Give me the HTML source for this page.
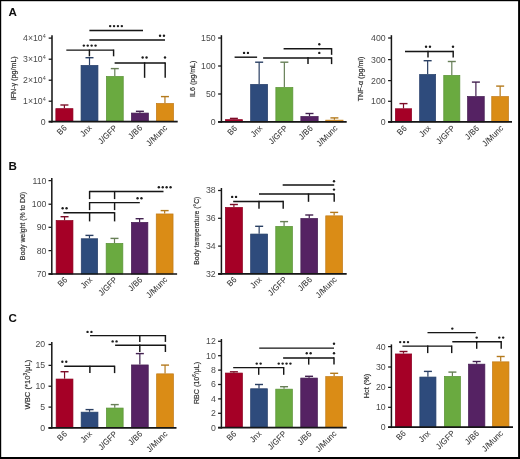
<!DOCTYPE html>
<html><head><meta charset="utf-8"><style>
html,body{margin:0;padding:0;background:#fff;}
svg{display:block;font-family:"Liberation Sans",sans-serif;will-change:transform;}
</style></head><body>
<svg width="520" height="459" viewBox="0 0 520 459">
<defs><filter id="bl" x="0" y="0" width="100%" height="100%"><feGaussianBlur stdDeviation="0.35"/></filter></defs>
<rect width="520" height="459" fill="#fff"/>
<g filter="url(#bl)">
<rect x="55.85" y="108.65" width="17.1" height="12.95" fill="#a50028" stroke="#8c0022" stroke-width="0.7"/>
<line x1="64.4" y1="108.3" x2="64.4" y2="105" stroke="#7d0f28" stroke-width="1.2"/>
<line x1="60.4" y1="105" x2="68.4" y2="105" stroke="#7d0f28" stroke-width="1.4"/>
<rect x="81.05" y="65.35" width="16.9" height="56.25" fill="#2e4b7c" stroke="#263f69" stroke-width="0.7"/>
<line x1="89.5" y1="65" x2="89.5" y2="57.7" stroke="#2a3f63" stroke-width="1.2"/>
<line x1="85.5" y1="57.7" x2="93.5" y2="57.7" stroke="#2a3f63" stroke-width="1.4"/>
<rect x="106.35" y="76.45" width="16.9" height="45.15" fill="#6aaa40" stroke="#5a9236" stroke-width="0.7"/>
<line x1="114.8" y1="76.1" x2="114.8" y2="68.6" stroke="#677f57" stroke-width="1.2"/>
<line x1="110.8" y1="68.6" x2="118.8" y2="68.6" stroke="#677f57" stroke-width="1.4"/>
<rect x="131.35" y="113.05" width="17.1" height="8.55" fill="#542463" stroke="#461d53" stroke-width="0.7"/>
<line x1="139.9" y1="112.7" x2="139.9" y2="111.3" stroke="#42204f" stroke-width="1.2"/>
<line x1="135.9" y1="111.3" x2="143.9" y2="111.3" stroke="#42204f" stroke-width="1.4"/>
<rect x="156.35" y="103.45" width="17.2" height="18.15" fill="#da8c18" stroke="#c07a14" stroke-width="0.7"/>
<line x1="164.95" y1="103.1" x2="164.95" y2="96.6" stroke="#b47a1e" stroke-width="1.2"/>
<line x1="160.95" y1="96.6" x2="168.95" y2="96.6" stroke="#b47a1e" stroke-width="1.4"/>
<line x1="52" y1="35.2" x2="52" y2="122.5" stroke="#141414" stroke-width="1.5"/>
<line x1="48.7" y1="121.6" x2="177.7" y2="121.6" stroke="#141414" stroke-width="1.7"/>
<line x1="48.7" y1="38.1" x2="52" y2="38.1" stroke="#141414" stroke-width="1.25"/>
<text transform="translate(45.7,41) scale(1.05,1)" font-size="8.3" text-anchor="end" fill="#4a4a4a">4×10<tspan font-size="5.2" dy="-2.8">4</tspan></text>
<line x1="48.7" y1="59.2" x2="52" y2="59.2" stroke="#141414" stroke-width="1.25"/>
<text transform="translate(45.7,62.1) scale(1.05,1)" font-size="8.3" text-anchor="end" fill="#4a4a4a">3×10<tspan font-size="5.2" dy="-2.8">4</tspan></text>
<line x1="48.7" y1="80.2" x2="52" y2="80.2" stroke="#141414" stroke-width="1.25"/>
<text transform="translate(45.7,83.1) scale(1.05,1)" font-size="8.3" text-anchor="end" fill="#4a4a4a">2×10<tspan font-size="5.2" dy="-2.8">4</tspan></text>
<line x1="48.7" y1="101.2" x2="52" y2="101.2" stroke="#141414" stroke-width="1.25"/>
<text transform="translate(45.7,104.1) scale(1.05,1)" font-size="8.3" text-anchor="end" fill="#4a4a4a">1×10<tspan font-size="5.2" dy="-2.8">4</tspan></text>
<line x1="48.7" y1="121.8" x2="52" y2="121.8" stroke="#141414" stroke-width="1.25"/>
<text transform="translate(45.7,124.7) scale(1.05,1)" font-size="8.3" text-anchor="end" fill="#4a4a4a">0</text>
<text transform="translate(13,78.3) rotate(-90) scale(0.97,1)" font-size="7.4" text-anchor="middle" fill="#2e2e2e" stroke="#2e2e2e" stroke-width="0.18" dy="2.6">IFN-γ (pg/mL)</text>
<text transform="translate(65.2,126.3) rotate(-45) scale(0.94,1)" font-size="8.4" text-anchor="end" fill="#333" stroke="#333" stroke-width="0.05" letter-spacing="0.1" dy="3">B6</text>
<text transform="translate(90.3,126.3) rotate(-45) scale(0.94,1)" font-size="8.4" text-anchor="end" fill="#333" stroke="#333" stroke-width="0.05" letter-spacing="0.1" dy="3">Jnx</text>
<text transform="translate(115.6,126.3) rotate(-45) scale(0.94,1)" font-size="8.4" text-anchor="end" fill="#333" stroke="#333" stroke-width="0.05" letter-spacing="0.1" dy="3">J/GFP</text>
<text transform="translate(140.7,126.3) rotate(-45) scale(0.94,1)" font-size="8.4" text-anchor="end" fill="#333" stroke="#333" stroke-width="0.05" letter-spacing="0.1" dy="3">J/B6</text>
<text transform="translate(165.75,126.3) rotate(-45) scale(0.94,1)" font-size="8.4" text-anchor="end" fill="#333" stroke="#333" stroke-width="0.05" letter-spacing="0.1" dy="3">J/Munc</text>
<line x1="89.4" y1="30.5" x2="143" y2="30.5" stroke="#141414" stroke-width="1.45"/>
<circle cx="110.15" cy="26.1" r="1.2" fill="#1e1e1e"/>
<circle cx="114.05" cy="26.1" r="1.2" fill="#1e1e1e"/>
<circle cx="117.95" cy="26.1" r="1.2" fill="#1e1e1e"/>
<circle cx="121.85" cy="26.1" r="1.2" fill="#1e1e1e"/>
<line x1="89.4" y1="40" x2="165" y2="40" stroke="#141414" stroke-width="1.45"/>
<circle cx="160.05" cy="35.8" r="1.2" fill="#1e1e1e"/>
<circle cx="163.95" cy="35.8" r="1.2" fill="#1e1e1e"/>
<line x1="66.3" y1="50.1" x2="113.6" y2="50.1" stroke="#141414" stroke-width="1.45"/>
<line x1="89.4" y1="49.5" x2="89.4" y2="56.3" stroke="#141414" stroke-width="1.45"/>
<line x1="113.6" y1="49.5" x2="113.6" y2="56.3" stroke="#141414" stroke-width="1.45"/>
<circle cx="83.85" cy="45.6" r="1.2" fill="#1e1e1e"/>
<circle cx="87.75" cy="45.6" r="1.2" fill="#1e1e1e"/>
<circle cx="91.65" cy="45.6" r="1.2" fill="#1e1e1e"/>
<circle cx="95.55" cy="45.6" r="1.2" fill="#1e1e1e"/>
<line x1="114.6" y1="63" x2="165.5" y2="63" stroke="#141414" stroke-width="1.45"/>
<line x1="144.6" y1="62.4" x2="144.6" y2="77.8" stroke="#141414" stroke-width="1.45"/>
<line x1="165.2" y1="62.4" x2="165.2" y2="77.8" stroke="#141414" stroke-width="1.45"/>
<circle cx="142.65" cy="57.5" r="1.2" fill="#1e1e1e"/>
<circle cx="146.55" cy="57.5" r="1.2" fill="#1e1e1e"/>
<circle cx="165" cy="57.5" r="1.2" fill="#1e1e1e"/>
<rect x="225.35" y="119.65" width="17.1" height="2.25" fill="#a50028" stroke="#8c0022" stroke-width="0.7"/>
<line x1="233.9" y1="119.3" x2="233.9" y2="118.4" stroke="#7d0f28" stroke-width="1.2"/>
<line x1="229.9" y1="118.4" x2="237.9" y2="118.4" stroke="#7d0f28" stroke-width="1.4"/>
<rect x="250.65" y="84.35" width="17" height="37.55" fill="#2e4b7c" stroke="#263f69" stroke-width="0.7"/>
<line x1="259.15" y1="84" x2="259.15" y2="62.2" stroke="#2a3f63" stroke-width="1.2"/>
<line x1="255.15" y1="62.2" x2="263.15" y2="62.2" stroke="#2a3f63" stroke-width="1.4"/>
<rect x="275.85" y="87.45" width="17" height="34.45" fill="#6aaa40" stroke="#5a9236" stroke-width="0.7"/>
<line x1="284.35" y1="87.1" x2="284.35" y2="62.2" stroke="#677f57" stroke-width="1.2"/>
<line x1="280.35" y1="62.2" x2="288.35" y2="62.2" stroke="#677f57" stroke-width="1.4"/>
<rect x="300.85" y="116.45" width="17.3" height="5.45" fill="#542463" stroke="#461d53" stroke-width="0.7"/>
<line x1="309.5" y1="116.1" x2="309.5" y2="113.5" stroke="#42204f" stroke-width="1.2"/>
<line x1="305.5" y1="113.5" x2="313.5" y2="113.5" stroke="#42204f" stroke-width="1.4"/>
<rect x="325.75" y="120.15" width="17.3" height="1.75" fill="#da8c18" stroke="#c07a14" stroke-width="0.7"/>
<line x1="334.4" y1="119.8" x2="334.4" y2="117.9" stroke="#b47a1e" stroke-width="1.2"/>
<line x1="330.4" y1="117.9" x2="338.4" y2="117.9" stroke="#b47a1e" stroke-width="1.4"/>
<line x1="221.4" y1="35.2" x2="221.4" y2="122.8" stroke="#141414" stroke-width="1.5"/>
<line x1="218.1" y1="121.9" x2="346.7" y2="121.9" stroke="#141414" stroke-width="1.7"/>
<line x1="218.1" y1="38" x2="221.4" y2="38" stroke="#141414" stroke-width="1.25"/>
<text transform="translate(215.6,40.9) scale(1.05,1)" font-size="8.3" text-anchor="end" fill="#4a4a4a">150</text>
<line x1="218.1" y1="66" x2="221.4" y2="66" stroke="#141414" stroke-width="1.25"/>
<text transform="translate(215.6,68.9) scale(1.05,1)" font-size="8.3" text-anchor="end" fill="#4a4a4a">100</text>
<line x1="218.1" y1="94" x2="221.4" y2="94" stroke="#141414" stroke-width="1.25"/>
<text transform="translate(215.6,96.9) scale(1.05,1)" font-size="8.3" text-anchor="end" fill="#4a4a4a">50</text>
<line x1="218.1" y1="122" x2="221.4" y2="122" stroke="#141414" stroke-width="1.25"/>
<text transform="translate(215.6,124.9) scale(1.05,1)" font-size="8.3" text-anchor="end" fill="#4a4a4a">0</text>
<text transform="translate(192.6,78.8) rotate(-90) scale(0.96,1)" font-size="7.4" text-anchor="middle" fill="#2e2e2e" stroke="#2e2e2e" stroke-width="0.18" dy="2.6">IL6 (pg/mL)</text>
<text transform="translate(235.6,126.6) rotate(-45) scale(0.94,1)" font-size="8.4" text-anchor="end" fill="#333" stroke="#333" stroke-width="0.05" letter-spacing="0.1" dy="3">B6</text>
<text transform="translate(260.85,126.6) rotate(-45) scale(0.94,1)" font-size="8.4" text-anchor="end" fill="#333" stroke="#333" stroke-width="0.05" letter-spacing="0.1" dy="3">Jnx</text>
<text transform="translate(286.05,126.6) rotate(-45) scale(0.94,1)" font-size="8.4" text-anchor="end" fill="#333" stroke="#333" stroke-width="0.05" letter-spacing="0.1" dy="3">J/GFP</text>
<text transform="translate(311.2,126.6) rotate(-45) scale(0.94,1)" font-size="8.4" text-anchor="end" fill="#333" stroke="#333" stroke-width="0.05" letter-spacing="0.1" dy="3">J/B6</text>
<text transform="translate(336.1,126.6) rotate(-45) scale(0.94,1)" font-size="8.4" text-anchor="end" fill="#333" stroke="#333" stroke-width="0.05" letter-spacing="0.1" dy="3">J/Munc</text>
<line x1="234.6" y1="57.2" x2="257.1" y2="57.2" stroke="#141414" stroke-width="1.45"/>
<circle cx="244.05" cy="52.9" r="1.2" fill="#1e1e1e"/>
<circle cx="247.95" cy="52.9" r="1.2" fill="#1e1e1e"/>
<line x1="283.6" y1="48.8" x2="331.6" y2="48.8" stroke="#141414" stroke-width="1.45"/>
<line x1="331.6" y1="48.2" x2="331.6" y2="54.8" stroke="#141414" stroke-width="1.45"/>
<circle cx="319.3" cy="44.2" r="1.2" fill="#1e1e1e"/>
<line x1="263.1" y1="57.9" x2="331.6" y2="57.9" stroke="#141414" stroke-width="1.45"/>
<line x1="308" y1="57.3" x2="308" y2="64.1" stroke="#141414" stroke-width="1.45"/>
<line x1="331.6" y1="57.3" x2="331.6" y2="64.1" stroke="#141414" stroke-width="1.45"/>
<circle cx="319.3" cy="52.9" r="1.2" fill="#1e1e1e"/>
<rect x="395.35" y="108.75" width="16.3" height="13.15" fill="#a50028" stroke="#8c0022" stroke-width="0.7"/>
<line x1="403.5" y1="108.4" x2="403.5" y2="103.6" stroke="#7d0f28" stroke-width="1.2"/>
<line x1="399.5" y1="103.6" x2="407.5" y2="103.6" stroke="#7d0f28" stroke-width="1.4"/>
<rect x="419.65" y="74.45" width="16" height="47.45" fill="#2e4b7c" stroke="#263f69" stroke-width="0.7"/>
<line x1="427.65" y1="74.1" x2="427.65" y2="60.7" stroke="#2a3f63" stroke-width="1.2"/>
<line x1="423.65" y1="60.7" x2="431.65" y2="60.7" stroke="#2a3f63" stroke-width="1.4"/>
<rect x="443.75" y="75.35" width="16.1" height="46.55" fill="#6aaa40" stroke="#5a9236" stroke-width="0.7"/>
<line x1="451.8" y1="75" x2="451.8" y2="61.5" stroke="#677f57" stroke-width="1.2"/>
<line x1="447.8" y1="61.5" x2="455.8" y2="61.5" stroke="#677f57" stroke-width="1.4"/>
<rect x="467.55" y="96.45" width="16.7" height="25.45" fill="#542463" stroke="#461d53" stroke-width="0.7"/>
<line x1="475.9" y1="96.1" x2="475.9" y2="82.1" stroke="#42204f" stroke-width="1.2"/>
<line x1="471.9" y1="82.1" x2="479.9" y2="82.1" stroke="#42204f" stroke-width="1.4"/>
<rect x="491.75" y="96.55" width="16.8" height="25.35" fill="#da8c18" stroke="#c07a14" stroke-width="0.7"/>
<line x1="500.15" y1="96.2" x2="500.15" y2="86.1" stroke="#b47a1e" stroke-width="1.2"/>
<line x1="496.15" y1="86.1" x2="504.15" y2="86.1" stroke="#b47a1e" stroke-width="1.4"/>
<line x1="391.4" y1="35.2" x2="391.4" y2="122.8" stroke="#141414" stroke-width="1.5"/>
<line x1="388.1" y1="121.9" x2="512" y2="121.9" stroke="#141414" stroke-width="1.7"/>
<line x1="388.1" y1="38" x2="391.4" y2="38" stroke="#141414" stroke-width="1.25"/>
<text transform="translate(385.6,40.9) scale(1.05,1)" font-size="8.3" text-anchor="end" fill="#4a4a4a">400</text>
<line x1="388.1" y1="59.6" x2="391.4" y2="59.6" stroke="#141414" stroke-width="1.25"/>
<text transform="translate(385.6,62.5) scale(1.05,1)" font-size="8.3" text-anchor="end" fill="#4a4a4a">300</text>
<line x1="388.1" y1="80.6" x2="391.4" y2="80.6" stroke="#141414" stroke-width="1.25"/>
<text transform="translate(385.6,83.5) scale(1.05,1)" font-size="8.3" text-anchor="end" fill="#4a4a4a">200</text>
<line x1="388.1" y1="101.3" x2="391.4" y2="101.3" stroke="#141414" stroke-width="1.25"/>
<text transform="translate(385.6,104.2) scale(1.05,1)" font-size="8.3" text-anchor="end" fill="#4a4a4a">100</text>
<line x1="388.1" y1="122" x2="391.4" y2="122" stroke="#141414" stroke-width="1.25"/>
<text transform="translate(385.6,124.9) scale(1.05,1)" font-size="8.3" text-anchor="end" fill="#4a4a4a">0</text>
<text transform="translate(360,79) rotate(-90) scale(0.97,1)" font-size="7.4" text-anchor="middle" fill="#2e2e2e" stroke="#2e2e2e" stroke-width="0.18" dy="2.6">TNF-α (pg/ml)</text>
<text transform="translate(405.2,126.6) rotate(-45) scale(0.94,1)" font-size="8.4" text-anchor="end" fill="#333" stroke="#333" stroke-width="0.05" letter-spacing="0.1" dy="3">B6</text>
<text transform="translate(429.35,126.6) rotate(-45) scale(0.94,1)" font-size="8.4" text-anchor="end" fill="#333" stroke="#333" stroke-width="0.05" letter-spacing="0.1" dy="3">Jnx</text>
<text transform="translate(453.5,126.6) rotate(-45) scale(0.94,1)" font-size="8.4" text-anchor="end" fill="#333" stroke="#333" stroke-width="0.05" letter-spacing="0.1" dy="3">J/GFP</text>
<text transform="translate(477.6,126.6) rotate(-45) scale(0.94,1)" font-size="8.4" text-anchor="end" fill="#333" stroke="#333" stroke-width="0.05" letter-spacing="0.1" dy="3">J/B6</text>
<text transform="translate(501.85,126.6) rotate(-45) scale(0.94,1)" font-size="8.4" text-anchor="end" fill="#333" stroke="#333" stroke-width="0.05" letter-spacing="0.1" dy="3">J/Munc</text>
<line x1="405" y1="51.4" x2="453.2" y2="51.4" stroke="#141414" stroke-width="1.45"/>
<line x1="428" y1="50.8" x2="428" y2="57.4" stroke="#141414" stroke-width="1.45"/>
<line x1="453.2" y1="50.8" x2="453.2" y2="57.4" stroke="#141414" stroke-width="1.45"/>
<circle cx="426.05" cy="46.8" r="1.2" fill="#1e1e1e"/>
<circle cx="429.95" cy="46.8" r="1.2" fill="#1e1e1e"/>
<circle cx="453" cy="46.8" r="1.2" fill="#1e1e1e"/>
<rect x="56.15" y="220.55" width="16.8" height="53.45" fill="#a50028" stroke="#8c0022" stroke-width="0.7"/>
<line x1="64.55" y1="220.2" x2="64.55" y2="216.7" stroke="#7d0f28" stroke-width="1.2"/>
<line x1="60.55" y1="216.7" x2="68.55" y2="216.7" stroke="#7d0f28" stroke-width="1.4"/>
<rect x="81.25" y="238.75" width="16.4" height="35.25" fill="#2e4b7c" stroke="#263f69" stroke-width="0.7"/>
<line x1="89.45" y1="238.4" x2="89.45" y2="235.4" stroke="#2a3f63" stroke-width="1.2"/>
<line x1="85.45" y1="235.4" x2="93.45" y2="235.4" stroke="#2a3f63" stroke-width="1.4"/>
<rect x="106.15" y="243.35" width="16.7" height="30.65" fill="#6aaa40" stroke="#5a9236" stroke-width="0.7"/>
<line x1="114.5" y1="243" x2="114.5" y2="238.4" stroke="#677f57" stroke-width="1.2"/>
<line x1="110.5" y1="238.4" x2="118.5" y2="238.4" stroke="#677f57" stroke-width="1.4"/>
<rect x="131.35" y="222.35" width="16.5" height="51.65" fill="#542463" stroke="#461d53" stroke-width="0.7"/>
<line x1="139.6" y1="222" x2="139.6" y2="218.7" stroke="#42204f" stroke-width="1.2"/>
<line x1="135.6" y1="218.7" x2="143.6" y2="218.7" stroke="#42204f" stroke-width="1.4"/>
<rect x="156.25" y="213.95" width="16.8" height="60.05" fill="#da8c18" stroke="#c07a14" stroke-width="0.7"/>
<line x1="164.65" y1="213.6" x2="164.65" y2="210.6" stroke="#b47a1e" stroke-width="1.2"/>
<line x1="160.65" y1="210.6" x2="168.65" y2="210.6" stroke="#b47a1e" stroke-width="1.4"/>
<line x1="51.8" y1="178" x2="51.8" y2="274.9" stroke="#141414" stroke-width="1.5"/>
<line x1="48.5" y1="274" x2="177.1" y2="274" stroke="#141414" stroke-width="1.7"/>
<line x1="48.5" y1="180.6" x2="51.8" y2="180.6" stroke="#141414" stroke-width="1.25"/>
<text transform="translate(46.4,183.5) scale(1.05,1)" font-size="8.3" text-anchor="end" fill="#4a4a4a">110</text>
<line x1="48.5" y1="204.2" x2="51.8" y2="204.2" stroke="#141414" stroke-width="1.25"/>
<text transform="translate(46.4,207.1) scale(1.05,1)" font-size="8.3" text-anchor="end" fill="#4a4a4a">100</text>
<line x1="48.5" y1="227.3" x2="51.8" y2="227.3" stroke="#141414" stroke-width="1.25"/>
<text transform="translate(46.4,230.2) scale(1.05,1)" font-size="8.3" text-anchor="end" fill="#4a4a4a">90</text>
<line x1="48.5" y1="250.6" x2="51.8" y2="250.6" stroke="#141414" stroke-width="1.25"/>
<text transform="translate(46.4,253.5) scale(1.05,1)" font-size="8.3" text-anchor="end" fill="#4a4a4a">80</text>
<line x1="48.5" y1="274" x2="51.8" y2="274" stroke="#141414" stroke-width="1.25"/>
<text transform="translate(46.4,276.9) scale(1.05,1)" font-size="8.3" text-anchor="end" fill="#4a4a4a">70</text>
<text transform="translate(22.7,226) rotate(-90) scale(0.93,1)" font-size="7.4" text-anchor="middle" fill="#2e2e2e" stroke="#2e2e2e" stroke-width="0.18" dy="2.6">Body weight (% to D0)</text>
<text transform="translate(65.75,278.1) rotate(-45) scale(0.94,1)" font-size="8.4" text-anchor="end" fill="#333" stroke="#333" stroke-width="0.05" letter-spacing="0.1" dy="3">B6</text>
<text transform="translate(90.65,278.1) rotate(-45) scale(0.94,1)" font-size="8.4" text-anchor="end" fill="#333" stroke="#333" stroke-width="0.05" letter-spacing="0.1" dy="3">Jnx</text>
<text transform="translate(115.7,278.1) rotate(-45) scale(0.94,1)" font-size="8.4" text-anchor="end" fill="#333" stroke="#333" stroke-width="0.05" letter-spacing="0.1" dy="3">J/GFP</text>
<text transform="translate(140.8,278.1) rotate(-45) scale(0.94,1)" font-size="8.4" text-anchor="end" fill="#333" stroke="#333" stroke-width="0.05" letter-spacing="0.1" dy="3">J/B6</text>
<text transform="translate(165.85,278.1) rotate(-45) scale(0.94,1)" font-size="8.4" text-anchor="end" fill="#333" stroke="#333" stroke-width="0.05" letter-spacing="0.1" dy="3">J/Munc</text>
<line x1="89.6" y1="191.5" x2="163.5" y2="191.5" stroke="#141414" stroke-width="1.45"/>
<line x1="89.6" y1="190.9" x2="89.6" y2="199.1" stroke="#141414" stroke-width="1.45"/>
<line x1="114.6" y1="190.9" x2="114.6" y2="199.1" stroke="#141414" stroke-width="1.45"/>
<circle cx="158.85" cy="187.3" r="1.2" fill="#1e1e1e"/>
<circle cx="162.75" cy="187.3" r="1.2" fill="#1e1e1e"/>
<circle cx="166.65" cy="187.3" r="1.2" fill="#1e1e1e"/>
<circle cx="170.55" cy="187.3" r="1.2" fill="#1e1e1e"/>
<line x1="89.6" y1="202.6" x2="139.8" y2="202.6" stroke="#141414" stroke-width="1.45"/>
<line x1="89.6" y1="202" x2="89.6" y2="210.1" stroke="#141414" stroke-width="1.45"/>
<line x1="114.6" y1="202" x2="114.6" y2="210.1" stroke="#141414" stroke-width="1.45"/>
<circle cx="137.55" cy="198.3" r="1.2" fill="#1e1e1e"/>
<circle cx="141.45" cy="198.3" r="1.2" fill="#1e1e1e"/>
<line x1="63.4" y1="212.8" x2="114.6" y2="212.8" stroke="#141414" stroke-width="1.45"/>
<line x1="89.6" y1="212.2" x2="89.6" y2="221.4" stroke="#141414" stroke-width="1.45"/>
<line x1="114.6" y1="212.2" x2="114.6" y2="221.4" stroke="#141414" stroke-width="1.45"/>
<circle cx="62.65" cy="208.3" r="1.2" fill="#1e1e1e"/>
<circle cx="66.55" cy="208.3" r="1.2" fill="#1e1e1e"/>
<rect x="225.35" y="207.45" width="17.1" height="66.35" fill="#a50028" stroke="#8c0022" stroke-width="0.7"/>
<line x1="233.9" y1="207.1" x2="233.9" y2="204.5" stroke="#7d0f28" stroke-width="1.2"/>
<line x1="229.9" y1="204.5" x2="237.9" y2="204.5" stroke="#7d0f28" stroke-width="1.4"/>
<rect x="250.65" y="234.05" width="17" height="39.75" fill="#2e4b7c" stroke="#263f69" stroke-width="0.7"/>
<line x1="259.15" y1="233.7" x2="259.15" y2="226.3" stroke="#2a3f63" stroke-width="1.2"/>
<line x1="255.15" y1="226.3" x2="263.15" y2="226.3" stroke="#2a3f63" stroke-width="1.4"/>
<rect x="275.75" y="226.35" width="16.7" height="47.45" fill="#6aaa40" stroke="#5a9236" stroke-width="0.7"/>
<line x1="284.1" y1="226" x2="284.1" y2="221.6" stroke="#677f57" stroke-width="1.2"/>
<line x1="280.1" y1="221.6" x2="288.1" y2="221.6" stroke="#677f57" stroke-width="1.4"/>
<rect x="300.85" y="218.45" width="16.8" height="55.35" fill="#542463" stroke="#461d53" stroke-width="0.7"/>
<line x1="309.25" y1="218.1" x2="309.25" y2="215" stroke="#42204f" stroke-width="1.2"/>
<line x1="305.25" y1="215" x2="313.25" y2="215" stroke="#42204f" stroke-width="1.4"/>
<rect x="325.75" y="215.85" width="16.8" height="57.95" fill="#da8c18" stroke="#c07a14" stroke-width="0.7"/>
<line x1="334.15" y1="215.5" x2="334.15" y2="212.4" stroke="#b47a1e" stroke-width="1.2"/>
<line x1="330.15" y1="212.4" x2="338.15" y2="212.4" stroke="#b47a1e" stroke-width="1.4"/>
<line x1="221.4" y1="188" x2="221.4" y2="274.7" stroke="#141414" stroke-width="1.5"/>
<line x1="218.1" y1="273.8" x2="346.7" y2="273.8" stroke="#141414" stroke-width="1.7"/>
<line x1="218.1" y1="190.5" x2="221.4" y2="190.5" stroke="#141414" stroke-width="1.25"/>
<text transform="translate(215.6,193.4) scale(1.05,1)" font-size="8.3" text-anchor="end" fill="#4a4a4a">38</text>
<line x1="218.1" y1="218.3" x2="221.4" y2="218.3" stroke="#141414" stroke-width="1.25"/>
<text transform="translate(215.6,221.2) scale(1.05,1)" font-size="8.3" text-anchor="end" fill="#4a4a4a">36</text>
<line x1="218.1" y1="246.1" x2="221.4" y2="246.1" stroke="#141414" stroke-width="1.25"/>
<text transform="translate(215.6,249) scale(1.05,1)" font-size="8.3" text-anchor="end" fill="#4a4a4a">34</text>
<line x1="218.1" y1="274" x2="221.4" y2="274" stroke="#141414" stroke-width="1.25"/>
<text transform="translate(215.6,276.9) scale(1.05,1)" font-size="8.3" text-anchor="end" fill="#4a4a4a">32</text>
<text transform="translate(196,230.7) rotate(-90) scale(0.92,1)" font-size="7.4" text-anchor="middle" fill="#2e2e2e" stroke="#2e2e2e" stroke-width="0.18" dy="2.6">Body temperature (°C)</text>
<text transform="translate(235.1,277.9) rotate(-45) scale(0.94,1)" font-size="8.4" text-anchor="end" fill="#333" stroke="#333" stroke-width="0.05" letter-spacing="0.1" dy="3">B6</text>
<text transform="translate(260.35,277.9) rotate(-45) scale(0.94,1)" font-size="8.4" text-anchor="end" fill="#333" stroke="#333" stroke-width="0.05" letter-spacing="0.1" dy="3">Jnx</text>
<text transform="translate(285.3,277.9) rotate(-45) scale(0.94,1)" font-size="8.4" text-anchor="end" fill="#333" stroke="#333" stroke-width="0.05" letter-spacing="0.1" dy="3">J/GFP</text>
<text transform="translate(310.45,277.9) rotate(-45) scale(0.94,1)" font-size="8.4" text-anchor="end" fill="#333" stroke="#333" stroke-width="0.05" letter-spacing="0.1" dy="3">J/B6</text>
<text transform="translate(335.35,277.9) rotate(-45) scale(0.94,1)" font-size="8.4" text-anchor="end" fill="#333" stroke="#333" stroke-width="0.05" letter-spacing="0.1" dy="3">J/Munc</text>
<line x1="282.7" y1="185" x2="334.2" y2="185" stroke="#141414" stroke-width="1.45"/>
<circle cx="334" cy="181.3" r="1.2" fill="#1e1e1e"/>
<line x1="259" y1="194" x2="334.2" y2="194" stroke="#141414" stroke-width="1.45"/>
<line x1="308.5" y1="193.4" x2="308.5" y2="201.8" stroke="#141414" stroke-width="1.45"/>
<line x1="334.2" y1="193.4" x2="334.2" y2="201.8" stroke="#141414" stroke-width="1.45"/>
<circle cx="334" cy="189.6" r="1.2" fill="#1e1e1e"/>
<line x1="233.2" y1="201.4" x2="283.2" y2="201.4" stroke="#141414" stroke-width="1.45"/>
<line x1="259" y1="200.8" x2="259" y2="208.8" stroke="#141414" stroke-width="1.45"/>
<line x1="283.2" y1="200.8" x2="283.2" y2="208.8" stroke="#141414" stroke-width="1.45"/>
<circle cx="232.15" cy="196.9" r="1.2" fill="#1e1e1e"/>
<circle cx="236.05" cy="196.9" r="1.2" fill="#1e1e1e"/>
<rect x="56.15" y="379.05" width="16.8" height="48.75" fill="#a50028" stroke="#8c0022" stroke-width="0.7"/>
<line x1="64.55" y1="378.7" x2="64.55" y2="371.7" stroke="#7d0f28" stroke-width="1.2"/>
<line x1="60.55" y1="371.7" x2="68.55" y2="371.7" stroke="#7d0f28" stroke-width="1.4"/>
<rect x="81.15" y="412.15" width="16.8" height="15.65" fill="#2e4b7c" stroke="#263f69" stroke-width="0.7"/>
<line x1="89.55" y1="411.8" x2="89.55" y2="409.6" stroke="#2a3f63" stroke-width="1.2"/>
<line x1="85.55" y1="409.6" x2="93.55" y2="409.6" stroke="#2a3f63" stroke-width="1.4"/>
<rect x="106.35" y="408.05" width="16.8" height="19.75" fill="#6aaa40" stroke="#5a9236" stroke-width="0.7"/>
<line x1="114.75" y1="407.7" x2="114.75" y2="404.6" stroke="#677f57" stroke-width="1.2"/>
<line x1="110.75" y1="404.6" x2="118.75" y2="404.6" stroke="#677f57" stroke-width="1.4"/>
<rect x="131.45" y="364.95" width="16.8" height="62.85" fill="#542463" stroke="#461d53" stroke-width="0.7"/>
<line x1="139.85" y1="364.6" x2="139.85" y2="353.6" stroke="#42204f" stroke-width="1.2"/>
<line x1="135.85" y1="353.6" x2="143.85" y2="353.6" stroke="#42204f" stroke-width="1.4"/>
<rect x="156.65" y="373.85" width="16.8" height="53.95" fill="#da8c18" stroke="#c07a14" stroke-width="0.7"/>
<line x1="165.05" y1="373.5" x2="165.05" y2="365.1" stroke="#b47a1e" stroke-width="1.2"/>
<line x1="161.05" y1="365.1" x2="169.05" y2="365.1" stroke="#b47a1e" stroke-width="1.4"/>
<line x1="51.8" y1="342" x2="51.8" y2="428.7" stroke="#141414" stroke-width="1.5"/>
<line x1="48.5" y1="427.8" x2="176.5" y2="427.8" stroke="#141414" stroke-width="1.7"/>
<line x1="48.5" y1="344.5" x2="51.8" y2="344.5" stroke="#141414" stroke-width="1.25"/>
<text transform="translate(45.1,347.4) scale(1.05,1)" font-size="8.3" text-anchor="end" fill="#4a4a4a">20</text>
<line x1="48.5" y1="365.4" x2="51.8" y2="365.4" stroke="#141414" stroke-width="1.25"/>
<text transform="translate(45.1,368.3) scale(1.05,1)" font-size="8.3" text-anchor="end" fill="#4a4a4a">15</text>
<line x1="48.5" y1="386.2" x2="51.8" y2="386.2" stroke="#141414" stroke-width="1.25"/>
<text transform="translate(45.1,389.1) scale(1.05,1)" font-size="8.3" text-anchor="end" fill="#4a4a4a">10</text>
<line x1="48.5" y1="407.1" x2="51.8" y2="407.1" stroke="#141414" stroke-width="1.25"/>
<text transform="translate(45.1,410) scale(1.05,1)" font-size="8.3" text-anchor="end" fill="#4a4a4a">5</text>
<line x1="48.5" y1="428" x2="51.8" y2="428" stroke="#141414" stroke-width="1.25"/>
<text transform="translate(45.1,430.9) scale(1.05,1)" font-size="8.3" text-anchor="end" fill="#4a4a4a">0</text>
<text transform="translate(27,384.6) rotate(-90) scale(1.03,1)" font-size="7.4" text-anchor="middle" fill="#2e2e2e" stroke="#2e2e2e" stroke-width="0.18" dy="2.6">WBC (*10<tspan font-size="4.5" dy="-2.5">3</tspan><tspan dy="2.5">/μL)</tspan></text>
<text transform="translate(65.45,432.3) rotate(-45) scale(0.94,1)" font-size="8.4" text-anchor="end" fill="#333" stroke="#333" stroke-width="0.05" letter-spacing="0.1" dy="3">B6</text>
<text transform="translate(90.45,432.3) rotate(-45) scale(0.94,1)" font-size="8.4" text-anchor="end" fill="#333" stroke="#333" stroke-width="0.05" letter-spacing="0.1" dy="3">Jnx</text>
<text transform="translate(115.65,432.3) rotate(-45) scale(0.94,1)" font-size="8.4" text-anchor="end" fill="#333" stroke="#333" stroke-width="0.05" letter-spacing="0.1" dy="3">J/GFP</text>
<text transform="translate(140.75,432.3) rotate(-45) scale(0.94,1)" font-size="8.4" text-anchor="end" fill="#333" stroke="#333" stroke-width="0.05" letter-spacing="0.1" dy="3">J/B6</text>
<text transform="translate(165.95,432.3) rotate(-45) scale(0.94,1)" font-size="8.4" text-anchor="end" fill="#333" stroke="#333" stroke-width="0.05" letter-spacing="0.1" dy="3">J/Munc</text>
<line x1="90" y1="335.6" x2="165.4" y2="335.6" stroke="#141414" stroke-width="1.45"/>
<line x1="139.8" y1="335" x2="139.8" y2="341.9" stroke="#141414" stroke-width="1.45"/>
<line x1="165.4" y1="335" x2="165.4" y2="341.9" stroke="#141414" stroke-width="1.45"/>
<circle cx="87.55" cy="331.9" r="1.2" fill="#1e1e1e"/>
<circle cx="91.45" cy="331.9" r="1.2" fill="#1e1e1e"/>
<line x1="115.1" y1="345.2" x2="165.4" y2="345.2" stroke="#141414" stroke-width="1.45"/>
<line x1="139.8" y1="344.6" x2="139.8" y2="352" stroke="#141414" stroke-width="1.45"/>
<line x1="165.4" y1="344.6" x2="165.4" y2="352" stroke="#141414" stroke-width="1.45"/>
<circle cx="112.65" cy="341.4" r="1.2" fill="#1e1e1e"/>
<circle cx="116.55" cy="341.4" r="1.2" fill="#1e1e1e"/>
<line x1="64.2" y1="366.3" x2="114.6" y2="366.3" stroke="#141414" stroke-width="1.45"/>
<line x1="89.9" y1="365.7" x2="89.9" y2="373.1" stroke="#141414" stroke-width="1.45"/>
<line x1="114.6" y1="365.7" x2="114.6" y2="373.1" stroke="#141414" stroke-width="1.45"/>
<circle cx="62.35" cy="361.8" r="1.2" fill="#1e1e1e"/>
<circle cx="66.25" cy="361.8" r="1.2" fill="#1e1e1e"/>
<rect x="225.35" y="373.05" width="17.1" height="54.55" fill="#a50028" stroke="#8c0022" stroke-width="0.7"/>
<line x1="233.9" y1="372.7" x2="233.9" y2="371.8" stroke="#7d0f28" stroke-width="1.2"/>
<line x1="229.9" y1="371.8" x2="237.9" y2="371.8" stroke="#7d0f28" stroke-width="1.4"/>
<rect x="250.65" y="388.75" width="16.7" height="38.85" fill="#2e4b7c" stroke="#263f69" stroke-width="0.7"/>
<line x1="259" y1="388.4" x2="259" y2="384.5" stroke="#2a3f63" stroke-width="1.2"/>
<line x1="255" y1="384.5" x2="263" y2="384.5" stroke="#2a3f63" stroke-width="1.4"/>
<rect x="275.75" y="389.15" width="16.6" height="38.45" fill="#6aaa40" stroke="#5a9236" stroke-width="0.7"/>
<line x1="284.05" y1="388.8" x2="284.05" y2="386.7" stroke="#677f57" stroke-width="1.2"/>
<line x1="280.05" y1="386.7" x2="288.05" y2="386.7" stroke="#677f57" stroke-width="1.4"/>
<rect x="300.75" y="378.05" width="16.6" height="49.55" fill="#542463" stroke="#461d53" stroke-width="0.7"/>
<line x1="309.05" y1="377.7" x2="309.05" y2="376.3" stroke="#42204f" stroke-width="1.2"/>
<line x1="305.05" y1="376.3" x2="313.05" y2="376.3" stroke="#42204f" stroke-width="1.4"/>
<rect x="325.75" y="376.65" width="16.8" height="50.95" fill="#da8c18" stroke="#c07a14" stroke-width="0.7"/>
<line x1="334.15" y1="376.3" x2="334.15" y2="373.3" stroke="#b47a1e" stroke-width="1.2"/>
<line x1="330.15" y1="373.3" x2="338.15" y2="373.3" stroke="#b47a1e" stroke-width="1.4"/>
<line x1="221.4" y1="339" x2="221.4" y2="428.5" stroke="#141414" stroke-width="1.5"/>
<line x1="218.1" y1="427.6" x2="346.7" y2="427.6" stroke="#141414" stroke-width="1.7"/>
<line x1="218.1" y1="341.3" x2="221.4" y2="341.3" stroke="#141414" stroke-width="1.25"/>
<text transform="translate(215.8,344.2) scale(1.05,1)" font-size="8.3" text-anchor="end" fill="#4a4a4a">12</text>
<line x1="218.1" y1="355.7" x2="221.4" y2="355.7" stroke="#141414" stroke-width="1.25"/>
<text transform="translate(215.8,358.6) scale(1.05,1)" font-size="8.3" text-anchor="end" fill="#4a4a4a">10</text>
<line x1="218.1" y1="370.1" x2="221.4" y2="370.1" stroke="#141414" stroke-width="1.25"/>
<text transform="translate(215.8,373) scale(1.05,1)" font-size="8.3" text-anchor="end" fill="#4a4a4a">8</text>
<line x1="218.1" y1="384.5" x2="221.4" y2="384.5" stroke="#141414" stroke-width="1.25"/>
<text transform="translate(215.8,387.4) scale(1.05,1)" font-size="8.3" text-anchor="end" fill="#4a4a4a">6</text>
<line x1="218.1" y1="398.9" x2="221.4" y2="398.9" stroke="#141414" stroke-width="1.25"/>
<text transform="translate(215.8,401.8) scale(1.05,1)" font-size="8.3" text-anchor="end" fill="#4a4a4a">4</text>
<line x1="218.1" y1="413.3" x2="221.4" y2="413.3" stroke="#141414" stroke-width="1.25"/>
<text transform="translate(215.8,416.2) scale(1.05,1)" font-size="8.3" text-anchor="end" fill="#4a4a4a">2</text>
<line x1="218.1" y1="427.7" x2="221.4" y2="427.7" stroke="#141414" stroke-width="1.25"/>
<text transform="translate(215.8,430.6) scale(1.05,1)" font-size="8.3" text-anchor="end" fill="#4a4a4a">0</text>
<text transform="translate(196,383) rotate(-90) scale(0.96,1)" font-size="7.4" text-anchor="middle" fill="#2e2e2e" stroke="#2e2e2e" stroke-width="0.18" dy="2.6">RBC (10<tspan font-size="4.5" dy="-2.5">6</tspan><tspan dy="2.5">/μL)</tspan></text>
<text transform="translate(234.8,432.1) rotate(-45) scale(0.94,1)" font-size="8.4" text-anchor="end" fill="#333" stroke="#333" stroke-width="0.05" letter-spacing="0.1" dy="3">B6</text>
<text transform="translate(259.9,432.1) rotate(-45) scale(0.94,1)" font-size="8.4" text-anchor="end" fill="#333" stroke="#333" stroke-width="0.05" letter-spacing="0.1" dy="3">Jnx</text>
<text transform="translate(284.95,432.1) rotate(-45) scale(0.94,1)" font-size="8.4" text-anchor="end" fill="#333" stroke="#333" stroke-width="0.05" letter-spacing="0.1" dy="3">J/GFP</text>
<text transform="translate(309.95,432.1) rotate(-45) scale(0.94,1)" font-size="8.4" text-anchor="end" fill="#333" stroke="#333" stroke-width="0.05" letter-spacing="0.1" dy="3">J/B6</text>
<text transform="translate(335.05,432.1) rotate(-45) scale(0.94,1)" font-size="8.4" text-anchor="end" fill="#333" stroke="#333" stroke-width="0.05" letter-spacing="0.1" dy="3">J/Munc</text>
<line x1="259.2" y1="348.1" x2="334" y2="348.1" stroke="#141414" stroke-width="1.45"/>
<circle cx="334" cy="343.8" r="1.2" fill="#1e1e1e"/>
<line x1="283.1" y1="357.9" x2="334" y2="357.9" stroke="#141414" stroke-width="1.45"/>
<line x1="308.7" y1="357.3" x2="308.7" y2="364.6" stroke="#141414" stroke-width="1.45"/>
<line x1="334" y1="357.3" x2="334" y2="364.6" stroke="#141414" stroke-width="1.45"/>
<circle cx="306.75" cy="353.3" r="1.2" fill="#1e1e1e"/>
<circle cx="310.65" cy="353.3" r="1.2" fill="#1e1e1e"/>
<circle cx="334" cy="353.3" r="1.2" fill="#1e1e1e"/>
<line x1="233.2" y1="367.6" x2="283.7" y2="367.6" stroke="#141414" stroke-width="1.45"/>
<line x1="258.7" y1="367" x2="258.7" y2="374.8" stroke="#141414" stroke-width="1.45"/>
<line x1="283.7" y1="367" x2="283.7" y2="374.8" stroke="#141414" stroke-width="1.45"/>
<circle cx="256.75" cy="363.6" r="1.2" fill="#1e1e1e"/>
<circle cx="260.65" cy="363.6" r="1.2" fill="#1e1e1e"/>
<circle cx="278.75" cy="363.6" r="1.2" fill="#1e1e1e"/>
<circle cx="282.65" cy="363.6" r="1.2" fill="#1e1e1e"/>
<circle cx="286.55" cy="363.6" r="1.2" fill="#1e1e1e"/>
<circle cx="290.45" cy="363.6" r="1.2" fill="#1e1e1e"/>
<rect x="395.35" y="353.95" width="16.3" height="73.25" fill="#a50028" stroke="#8c0022" stroke-width="0.7"/>
<line x1="403.5" y1="353.6" x2="403.5" y2="351.5" stroke="#7d0f28" stroke-width="1.2"/>
<line x1="399.5" y1="351.5" x2="407.5" y2="351.5" stroke="#7d0f28" stroke-width="1.4"/>
<rect x="419.85" y="377.05" width="16.1" height="50.15" fill="#2e4b7c" stroke="#263f69" stroke-width="0.7"/>
<line x1="427.9" y1="376.7" x2="427.9" y2="371.4" stroke="#2a3f63" stroke-width="1.2"/>
<line x1="423.9" y1="371.4" x2="431.9" y2="371.4" stroke="#2a3f63" stroke-width="1.4"/>
<rect x="444.35" y="376.35" width="16.1" height="50.85" fill="#6aaa40" stroke="#5a9236" stroke-width="0.7"/>
<line x1="452.4" y1="376" x2="452.4" y2="372.1" stroke="#677f57" stroke-width="1.2"/>
<line x1="448.4" y1="372.1" x2="456.4" y2="372.1" stroke="#677f57" stroke-width="1.4"/>
<rect x="468.45" y="364.15" width="16.4" height="63.05" fill="#542463" stroke="#461d53" stroke-width="0.7"/>
<line x1="476.65" y1="363.8" x2="476.65" y2="361.5" stroke="#42204f" stroke-width="1.2"/>
<line x1="472.65" y1="361.5" x2="480.65" y2="361.5" stroke="#42204f" stroke-width="1.4"/>
<rect x="492.45" y="361.85" width="16.5" height="65.35" fill="#da8c18" stroke="#c07a14" stroke-width="0.7"/>
<line x1="500.7" y1="361.5" x2="500.7" y2="356.5" stroke="#b47a1e" stroke-width="1.2"/>
<line x1="496.7" y1="356.5" x2="504.7" y2="356.5" stroke="#b47a1e" stroke-width="1.4"/>
<line x1="391.4" y1="344.4" x2="391.4" y2="428.1" stroke="#141414" stroke-width="1.5"/>
<line x1="388.1" y1="427.2" x2="513" y2="427.2" stroke="#141414" stroke-width="1.7"/>
<line x1="388.1" y1="346.6" x2="391.4" y2="346.6" stroke="#141414" stroke-width="1.25"/>
<text transform="translate(385.6,349.5) scale(1.05,1)" font-size="8.3" text-anchor="end" fill="#4a4a4a">40</text>
<line x1="388.1" y1="367" x2="391.4" y2="367" stroke="#141414" stroke-width="1.25"/>
<text transform="translate(385.6,369.9) scale(1.05,1)" font-size="8.3" text-anchor="end" fill="#4a4a4a">30</text>
<line x1="388.1" y1="387.4" x2="391.4" y2="387.4" stroke="#141414" stroke-width="1.25"/>
<text transform="translate(385.6,390.3) scale(1.05,1)" font-size="8.3" text-anchor="end" fill="#4a4a4a">20</text>
<line x1="388.1" y1="407.3" x2="391.4" y2="407.3" stroke="#141414" stroke-width="1.25"/>
<text transform="translate(385.6,410.2) scale(1.05,1)" font-size="8.3" text-anchor="end" fill="#4a4a4a">10</text>
<line x1="388.1" y1="427.4" x2="391.4" y2="427.4" stroke="#141414" stroke-width="1.25"/>
<text transform="translate(385.6,430.3) scale(1.05,1)" font-size="8.3" text-anchor="end" fill="#4a4a4a">0</text>
<text transform="translate(366.8,386) rotate(-90) scale(1,1)" font-size="7.4" text-anchor="middle" fill="#2e2e2e" stroke="#2e2e2e" stroke-width="0.18" dy="2.6">Hct (%)</text>
<text transform="translate(404.4,431.7) rotate(-45) scale(0.94,1)" font-size="8.4" text-anchor="end" fill="#333" stroke="#333" stroke-width="0.05" letter-spacing="0.1" dy="3">B6</text>
<text transform="translate(428.8,431.7) rotate(-45) scale(0.94,1)" font-size="8.4" text-anchor="end" fill="#333" stroke="#333" stroke-width="0.05" letter-spacing="0.1" dy="3">Jnx</text>
<text transform="translate(453.3,431.7) rotate(-45) scale(0.94,1)" font-size="8.4" text-anchor="end" fill="#333" stroke="#333" stroke-width="0.05" letter-spacing="0.1" dy="3">J/GFP</text>
<text transform="translate(477.55,431.7) rotate(-45) scale(0.94,1)" font-size="8.4" text-anchor="end" fill="#333" stroke="#333" stroke-width="0.05" letter-spacing="0.1" dy="3">J/B6</text>
<text transform="translate(501.6,431.7) rotate(-45) scale(0.94,1)" font-size="8.4" text-anchor="end" fill="#333" stroke="#333" stroke-width="0.05" letter-spacing="0.1" dy="3">J/Munc</text>
<line x1="427.5" y1="332.6" x2="475.8" y2="332.6" stroke="#141414" stroke-width="1.45"/>
<circle cx="452.3" cy="328.6" r="1.2" fill="#1e1e1e"/>
<line x1="452.3" y1="341.7" x2="501.2" y2="341.7" stroke="#141414" stroke-width="1.45"/>
<line x1="476.7" y1="341.1" x2="476.7" y2="348.8" stroke="#141414" stroke-width="1.45"/>
<line x1="501.2" y1="341.1" x2="501.2" y2="348.8" stroke="#141414" stroke-width="1.45"/>
<circle cx="476.7" cy="337.6" r="1.2" fill="#1e1e1e"/>
<circle cx="499.25" cy="337.6" r="1.2" fill="#1e1e1e"/>
<circle cx="503.15" cy="337.6" r="1.2" fill="#1e1e1e"/>
<line x1="402.4" y1="346.1" x2="451.7" y2="346.1" stroke="#141414" stroke-width="1.45"/>
<line x1="427.7" y1="345.5" x2="427.7" y2="353.1" stroke="#141414" stroke-width="1.45"/>
<line x1="451.7" y1="345.5" x2="451.7" y2="353.1" stroke="#141414" stroke-width="1.45"/>
<circle cx="400.2" cy="342.1" r="1.2" fill="#1e1e1e"/>
<circle cx="404.1" cy="342.1" r="1.2" fill="#1e1e1e"/>
<circle cx="408" cy="342.1" r="1.2" fill="#1e1e1e"/>
<text x="8.4" y="16.4" font-size="11.6" font-weight="bold" fill="#111">A</text>
<text x="8.4" y="170.0" font-size="11.6" font-weight="bold" fill="#111">B</text>
<text x="8.4" y="322.1" font-size="11.6" font-weight="bold" fill="#111">C</text>
<rect x="0" y="0" width="520" height="1.2" fill="#000"/>
<rect x="0" y="0" width="1.2" height="459" fill="#000"/>
<rect x="518.1" y="0" width="1.9" height="459" fill="#000"/>
<rect x="0" y="457" width="520" height="2" fill="#000"/>
</g>
</svg>
</body></html>
